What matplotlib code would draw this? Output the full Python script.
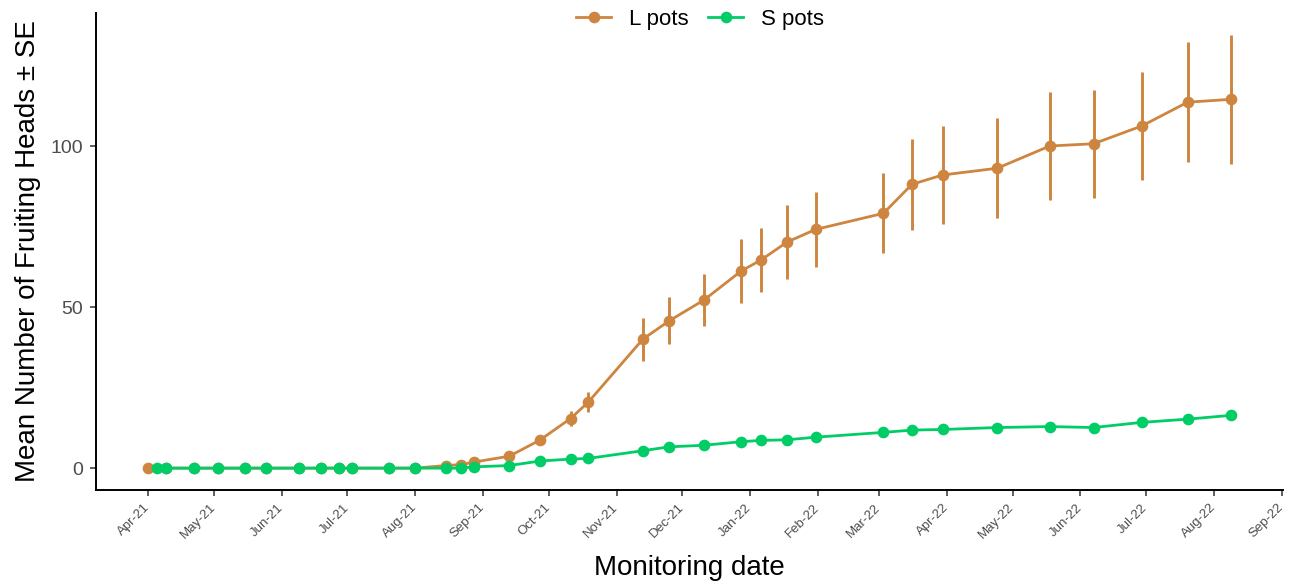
import matplotlib
matplotlib.use("Agg")
import matplotlib.pyplot as plt
import matplotlib.dates as mdates
import matplotlib.transforms as mtransforms
import pandas as pd

# Fruiting head counts per monitoring visit, large vs small pots.
# The L pots were first checked a few days before the S pots, the rest
# of the visits are shared.
l_dates = ["2021-04-01", "2021-04-09", "2021-04-22", "2021-05-03", "2021-05-15",
           "2021-05-25", "2021-06-09", "2021-06-19", "2021-06-27", "2021-07-03",
           "2021-07-20", "2021-08-01", "2021-08-15", "2021-08-22", "2021-08-28",
           "2021-09-13", "2021-09-27", "2021-10-11", "2021-10-19", "2021-11-13",
           "2021-11-25", "2021-12-11", "2021-12-28", "2022-01-06", "2022-01-18",
           "2022-01-31", "2022-03-03", "2022-03-16", "2022-03-30", "2022-04-24",
           "2022-05-18", "2022-06-07", "2022-06-29", "2022-07-20", "2022-08-09"]
l_mean = [0, 0, 0, 0, 0, 0, 0, 0, 0, 0, 0, 0, 0.8, 1.1, 1.9, 3.7, 8.7, 15.4, 20.4,
          40.0, 45.7, 52.2, 61.2, 64.6, 70.2, 74.1, 79.1, 88.1, 91.0, 93.1,
          100.0, 100.7, 106.2, 113.6, 114.5]
l_se = [0, 0, 0, 0, 0, 0, 0, 0, 0, 0, 0, 0, 0.3, 0.4, 0.6, 1.0, 1.3, 2.4, 3.1,
        6.6, 7.3, 8.2, 9.8, 10.0, 11.4, 11.6, 12.4, 14.1, 15.3, 15.5,
        16.8, 16.7, 16.8, 18.6, 20.0]

s_dates = ["2021-04-05"] + l_dates[1:]
s_mean = [0, 0, 0, 0, 0, 0, 0, 0, 0, 0, 0, 0, 0, 0, 0.4, 0.8, 2.2, 2.8, 3.0,
          5.4, 6.6, 7.1, 8.2, 8.6, 8.8, 9.6, 11.1, 11.8, 12.0, 12.6,
          12.9, 12.6, 14.2, 15.2, 16.4]
s_se = [0, 0, 0, 0, 0, 0, 0, 0, 0, 0, 0, 0, 0, 0, 0.2, 0.3, 0.5, 0.6, 0.6,
        0.8, 0.9, 0.9, 1.0, 1.0, 1.0, 1.1, 1.2, 1.2, 1.3, 1.3,
        1.4, 1.4, 1.5, 1.5, 1.6]

L_COLOUR = "#CD853F"
S_COLOUR = "#00CD66"
TICK_GREY = "#4D4D4D"


def main():
    plt.rcParams["font.family"] = ["Liberation Sans", "DejaVu Sans"]

    fig = plt.figure(figsize=(13.02, 5.87), dpi=100)
    ax = fig.add_axes([0.0737, 0.1652, 0.9117, 0.8127])

    handles = []
    for dates, mean, se, colour, name in [
        (l_dates, l_mean, l_se, L_COLOUR, "L pots"),
        (s_dates, s_mean, s_se, S_COLOUR, "S pots"),
    ]:
        x = pd.to_datetime(dates)
        ax.errorbar(x, mean, yerr=se, fmt="none", ecolor=colour,
                    elinewidth=2.1, capsize=0, zorder=2)
        line, = ax.plot(x, mean, color=colour, lw=2.0, marker="o",
                        markersize=8.4, markeredgewidth=0, label=name, zorder=3)
        handles.append(line)

    # axis ranges and monthly date ticks
    x0 = mdates.date2num(pd.Timestamp("2021-04-01")) - 23.9
    x1 = mdates.date2num(pd.Timestamp("2022-09-01")) + 0.6
    ax.set_xlim(x0, x1)
    ax.set_ylim(-6.8, 141.3)

    months = pd.date_range("2021-04-01", "2022-09-01", freq="MS")
    ax.set_xticks(months)
    ax.xaxis.set_major_formatter(mdates.DateFormatter("%b-%y"))
    ax.set_yticks([0, 50, 100])

    for side in ["top", "right"]:
        ax.spines[side].set_visible(False)
    for side in ["left", "bottom"]:
        ax.spines[side].set_linewidth(1.4)
        ax.spines[side].set_color("black")

    ax.tick_params(axis="both", length=4.3, width=1.1, color="#333333",
                   labelcolor=TICK_GREY)
    ax.tick_params(axis="y", labelsize=14, pad=5)
    ax.tick_params(axis="x", labelsize=9.5, pad=4)

    # slanted month labels, nudged a little right of their ticks
    shift = mtransforms.ScaledTranslation(4 / 100, 0, fig.dpi_scale_trans)
    for lab in ax.get_xticklabels():
        lab.set_rotation(45)
        lab.set_ha("right")
        lab.set_va("top")
        lab.set_transform(lab.get_transform() + shift)

    ax.set_xlabel("Monitoring date", fontsize=20, labelpad=10)
    ax.set_ylabel("Mean Number of Fruiting Heads \u00b1 SE", fontsize=20, labelpad=7)

    fig.legend(handles=handles, loc="center", bbox_to_anchor=(700 / 1302, 1 - 19 / 587),
               ncol=2, frameon=False, fontsize=16, handlelength=1.6,
               handletextpad=0.8, columnspacing=0.85, borderpad=0.2)

    fig.savefig("out.png", dpi=100)


if __name__ == "__main__":
    main()
